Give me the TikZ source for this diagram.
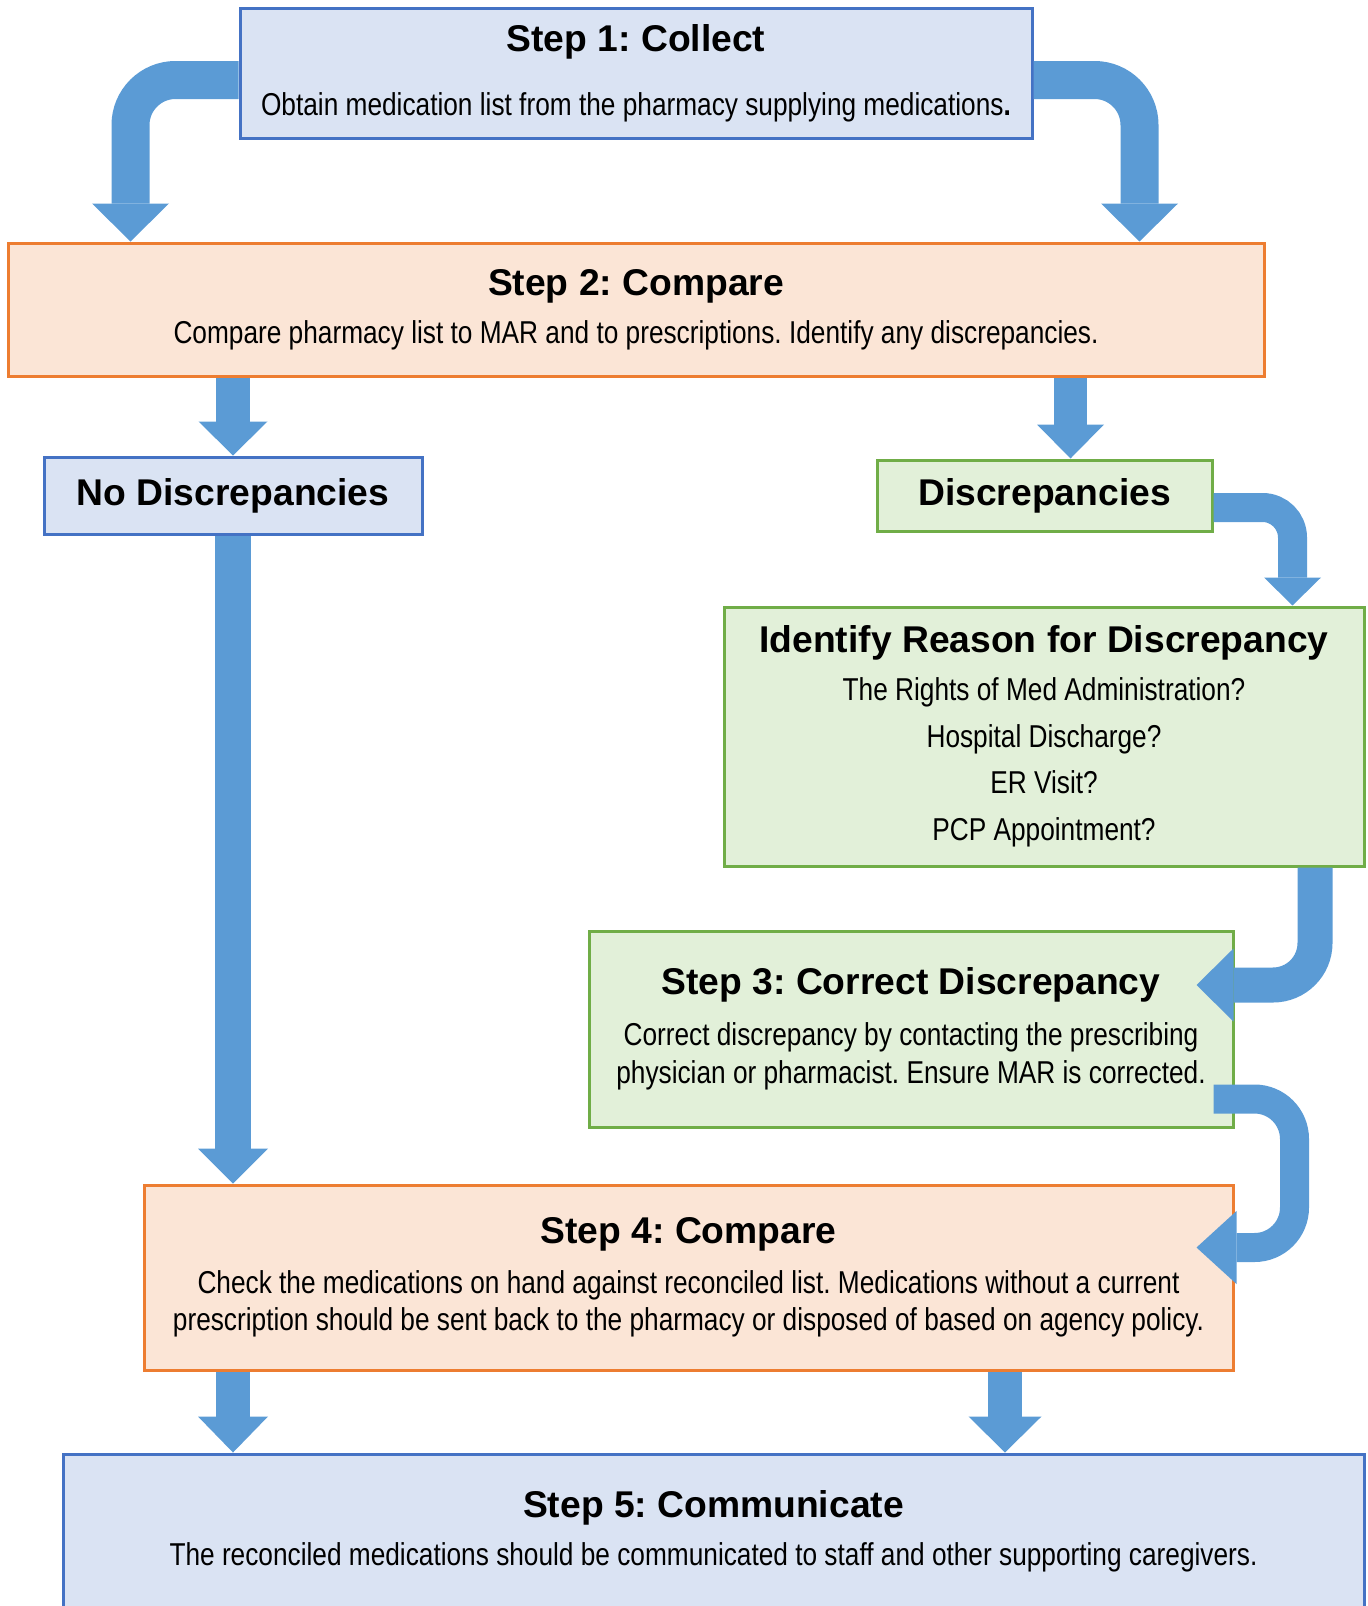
\documentclass[tikz,border=0pt]{standalone}
\usepackage{fontspec}
\setmainfont{Liberation Sans}
\newfontfamily\narrowfont[FakeStretch=0.83]{Liberation Sans}
\usetikzlibrary{arrows.meta}
\frenchspacing

\newlength\pix
\setlength\pix{0.02cm}

\definecolor{bluefill}{HTML}{DAE3F3}
\definecolor{blueline}{HTML}{4472C4}
\definecolor{orangefill}{HTML}{FBE5D6}
\definecolor{orangeline}{HTML}{ED7D31}
\definecolor{greenfill}{HTML}{E2F0D9}
\definecolor{greenline}{HTML}{70AD47}
\definecolor{flowblue}{HTML}{5B9BD5}

\newcommand\steptitle{\normalfont\bfseries\fontsize{21.2pt}{21.5pt}\selectfont}
\newcommand\stepbody{\narrowfont\fontsize{18pt}{21.5pt}\selectfont}

\tikzset{
  stepbox/.style={line width=3\pix, align=center, font=\stepbody, inner sep=0pt},
  bluestep/.style={stepbox, draw=blueline, fill=bluefill},
  orangestep/.style={stepbox, draw=orangeline, fill=orangefill},
  greenstep/.style={stepbox, draw=greenline, fill=greenfill},
  flow/.style n args={3}{draw=flowblue, line width=#1\pix,
    /utils/exec={\pgfmathsetmacro\tipw{0.02*#2}\pgfmathsetmacro\tipl{0.02*#3}},
    -{Triangle[width=\tipw cm, length=\tipl cm, line width=0pt]}},
}

\begin{document}
\begin{tikzpicture}[x=0.02cm, y=-0.02cm]
\useasboundingbox (0,0) rectangle (1367,1606);

%boxes of the steps

\node[bluestep, minimum width=792\pix, minimum height=130\pix] (step1) at (636,73)
  {{\steptitle Step 1: Collect}\\[14.8pt]Obtain medication list from the pharmacy supplying medications\textbf{.}};
\node[orangestep, minimum width=1256\pix, minimum height=133\pix] (step2) at (636,309.5)
  {{\steptitle Step 2: Compare}\\[5.7pt]Compare pharmacy list to MAR and to prescriptions. Identify any discrepancies.};

\node[bluestep, minimum width=378\pix, minimum height=77\pix] (nodisc) at (233,495.5) {\steptitle No Discrepancies};
\node[greenstep, minimum width=335\pix, minimum height=71\pix] (disc) at (1044.5,495.5) {\steptitle Discrepancies};

\node[greenstep, minimum width=640\pix, minimum height=259\pix] (reason) at (1044,736.5)
  {{\steptitle Identify Reason for Discrepancy}\\[5.7pt]The Rights of Med Administration?\\[5.1pt]Hospital Discharge?\\[5.1pt]ER Visit?\\[5.1pt]PCP Appointment?};

\node[greenstep, minimum width=644\pix, minimum height=196\pix] (step3) at (911,1029)
  {{\steptitle Step 3: Correct Discrepancy}\\[7.4pt]Correct discrepancy by contacting the prescribing\\physician or pharmacist. Ensure MAR is corrected.};

\node[orangestep, minimum width=1089\pix, minimum height=185\pix] (step4) at (688.5,1277.5)
  {{\steptitle Step 4: Compare}\\[6.8pt]Check the medications on hand against reconciled list. Medications without a current\\prescription should be sent back to the pharmacy or disposed of based on agency policy.};

\node[bluestep, minimum width=1301\pix, minimum height=154\pix] (step5) at (713.5,1531)
  {{\steptitle Step 5: Communicate}\\[5.7pt]The reconciled medications should be communicated to staff and other supporting caregivers.};

%block arrows

\coordinate (discin) at ([xshift=26\pix]disc.north);
\coordinate (step4out) at ([xshift=316.5\pix]step4.south);

\draw[flow={38}{77}{38}, rounded corners=45\pix] ([yshift=-7\pix]step1.west) -| ([xshift=124\pix]step2.north west);
\draw[flow={38}{77}{38}, rounded corners=45\pix] ([yshift=-7\pix]step1.east) -| ([xshift=-126\pix]step2.north east);

\draw[flow={34}{69}{34}] (nodisc.north |- step2.south) -- (nodisc.north);
\draw[flow={33}{67}{34}] (discin |- step2.south) -- (discin);

\draw[flow={36}{70}{35}] (nodisc.south) -- (nodisc.south |- step4.north);

\draw[flow={29}{57}{28}, rounded corners=30\pix] ([yshift=-12\pix]disc.east) -| ([xshift=-73\pix]reason.north east);
\draw[flow={35}{73}{37}, rounded corners=42\pix] ([xshift=-50.5\pix]reason.south east) |- ([xshift=-38\pix, yshift=44\pix]step3.east);
\draw[flow={29}{73}{40}, rounded corners=40\pix] ([xshift=-21\pix, yshift=-70\pix]step3.east) -- ++(81,0) |- ([xshift=-38\pix, yshift=30\pix]step4.east);

\draw[flow={34}{70}{36}] (nodisc.south |- step4.south) -- (nodisc.south |- step5.north);
\draw[flow={34}{73}{36}] (step4out) -- (step4out |- step5.north);
\end{tikzpicture}
\end{document}
